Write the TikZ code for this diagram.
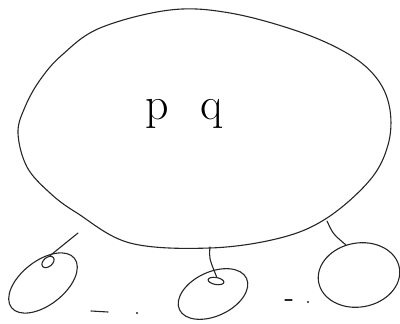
\documentclass[tikz,border=0pt]{standalone}
\usetikzlibrary{shapes.geometric}
\begin{document}
\begin{tikzpicture}[x=1pt,y=-1pt,
  sketch/.style={draw=black!85,line width=1.1pt,line cap=round,line join=round},
  blob/.style={sketch,ellipse,inner sep=0pt},
  lbl/.style={font=\fontsize{46}{46}\selectfont,inner sep=0pt}]
\useasboundingbox (0,0) rectangle (400,324);
% big outer ellipse (hand-drawn, egg shaped)
\draw[sketch] plot[smooth cycle,tension=0.6] coordinates {
 (170,10) (230,13) (300,32) (350,55) (378,80) (390,110) (388,145)
 (370,180) (327,218) (280,238) (210,248) (130,243) (77,213) (50,193)
 (27,167) (18,133) (25,107) (40,80) (62,55) (100,28)};
\node[lbl,anchor=base] (pq) at (184,119) {p\hspace{32pt}q};
% attachment points on the big ellipse
\coordinate (bl) at (78,233);
\coordinate (bm) at (210,247);
\coordinate (br) at (327,221);
\coordinate (rt) at (346,245);
% small ellipses
\node[blob,minimum width=80pt,minimum height=44pt,rotate=38] (left) at (43,283) {};
\node[blob,minimum width=74pt,minimum height=44pt,rotate=25] (mid) at (213,294) {};
\node[blob,minimum width=82pt,minimum height=64pt,rotate=10] (right) at (359,275) {};
% small loops where the connectors meet
\node[blob,minimum width=14pt,minimum height=9pt,rotate=40] (lloop) at (48,262) {};
\node[blob,minimum width=16pt,minimum height=7pt,rotate=-10] (mloop) at (216,281) {};
% connectors
\draw[sketch] (bl) -- (lloop.north east);
\draw[sketch] (bm) .. controls (209,258) .. (mloop.north);
\draw[sketch] (br) .. controls (333,234) .. (rt);
% dots
\draw[sketch] (91,311) -- (108,312);
\fill[black!85] (137,313) circle (1.2pt);
\draw[sketch] (285,300) -- (292,300);
\fill[black!85] (308,302) circle (1.2pt);
\end{tikzpicture}
\end{document}
